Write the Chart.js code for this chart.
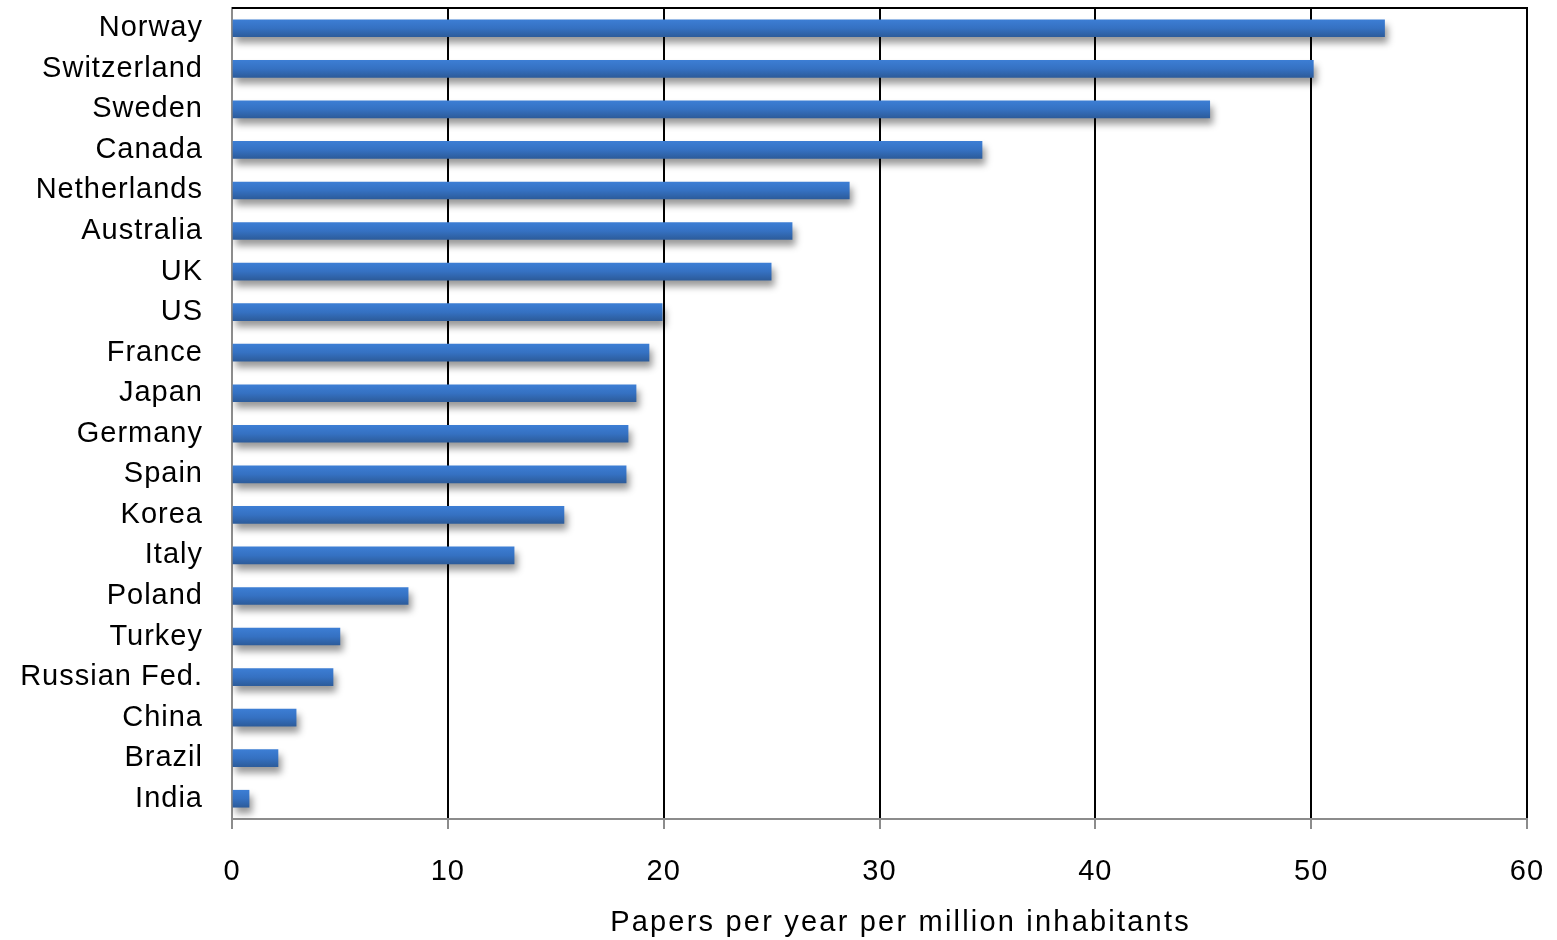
<!DOCTYPE html>
<html>
<head>
<meta charset="utf-8">
<script src="https://cdn.jsdelivr.net/npm/chart.js@4/dist/chart.umd.min.js"></script>
<style>
    body { margin: 0; background: #ffffff; }
    #wrap { width: 1557px; height: 940px; }
</style>
</head>
<body>
<div id="wrap"><canvas id="bar-chart" width="1557" height="940"></canvas></div>
<script>
// 국가 목록 (위에서 아래 순서)
var countries = ["Norway", "Switzerland", "Sweden", "Canada", "Netherlands", "Australia", "UK", "US",
    "France", "Japan", "Germany", "Spain", "Korea", "Italy", "Poland", "Turkey", "Russian Fed.",
    "China", "Brazil", "India"];
// 인구 백만 명당 연간 논문 수
var papers = [53.4, 50.1, 45.3, 34.75, 28.6, 25.95, 24.98, 19.93,
    19.32, 18.72, 18.35, 18.26, 15.38, 13.07, 8.16, 5.0, 4.68,
    2.97, 2.13, 0.79];
var xTicks = [0, 10, 20, 30, 40, 50, 60];
var xTitle = "Papers per year per million inhabitants";

window.onload = function () {
    var axisGray = "#8c8c8c";

    // 막대 세로 그라데이션
    function barFill(context) {
        var chart = context.chart;
        var yScale = chart.scales.y;
        if (!yScale || context.dataIndex === undefined) return "#3470c0";
        var yc = yScale.getPixelForValue(context.dataIndex);
        if (!isFinite(yc)) return "#3470c0";
        var g = chart.ctx.createLinearGradient(0, yc - 8, 0, yc + 8);
        g.addColorStop(0, "#3c7dd3");
        g.addColorStop(0.5, "#3571c2");
        g.addColorStop(1, "#2d5d9d");
        return g;
    }

    // 글자 간격 + 막대 그림자 + 위쪽 테두리
    var stylePlugin = {
        id: "stylePlugin",
        beforeUpdate: function (chart) {
            chart.ctx.letterSpacing = "1px";
        },
        beforeDraw: function (chart) {
            chart.ctx.letterSpacing = "1px";
        },
        beforeDatasetsDraw: function (chart) {
            var ctx = chart.ctx;
            ctx.save();
            ctx.shadowColor = "rgba(0,0,0,0.4)";
            ctx.shadowBlur = 7;
            ctx.shadowOffsetX = 3;
            ctx.shadowOffsetY = 6;
        },
        afterDatasetsDraw: function (chart) {
            chart.ctx.restore();
        },
        afterDraw: function (chart) {
            var ctx = chart.ctx;
            var a = chart.chartArea;
            ctx.save();
            ctx.strokeStyle = "#000000";
            ctx.lineWidth = 2;
            ctx.beginPath();
            ctx.moveTo(a.left, a.top);
            ctx.lineTo(a.right + 1, a.top);
            ctx.stroke();
            ctx.restore();
        }
    };

    var ctx = document.getElementById("bar-chart");
    var myBarChart = new Chart(ctx, {
        type: "bar",
        data: {
            labels: countries,
            datasets: [{
                data: papers,
                backgroundColor: barFill,
                borderWidth: 0,
                barThickness: 17
            }]
        },
        options: {
            indexAxis: "y",
            responsive: false,
            animation: false,
            layout: {
                padding: { top: 8, right: 30, bottom: 0, left: 0 }
            },
            plugins: {
                legend: { display: false },
                tooltip: { enabled: false }
            },
            scales: {
                x: {
                    min: 0,
                    max: 60,
                    afterBuildTicks: function (scale) {
                        scale.ticks = xTicks.map(function (v) { return { value: v }; });
                    },
                    grid: {
                        color: function (c) { return c.index === 0 ? axisGray : "#000000"; },
                        lineWidth: 2,
                        drawTicks: true,
                        tickLength: 10,
                        tickColor: axisGray,
                        tickWidth: 2
                    },
                    border: { display: true, color: axisGray, width: 2 },
                    ticks: {
                        color: "#000000",
                        padding: 26,
                        maxRotation: 0,
                        font: { family: "'Liberation Sans', Arial, sans-serif", size: 29 }
                    },
                    title: {
                        display: true,
                        text: xTitle,
                        color: "#000000",
                        padding: { top: 0, bottom: 0 },
                        font: { family: "'Liberation Sans', Arial, sans-serif", size: 29 }
                    },
                    afterFit: function (scale) {
                        scale.height = 121;
                        scale.paddingLeft = 0;
                        scale.paddingRight = 0;
                        // 축 제목: 글자 간격 넓게, 원본처럼 약간 오른쪽으로
                        if (!scale._wideTitle) {
                            var baseDrawTitle = Object.getPrototypeOf(scale).drawTitle;
                            scale.drawTitle = function () {
                                this.ctx.save();
                                this.ctx.letterSpacing = "2.2px";
                                this.ctx.translate(21, 0);
                                baseDrawTitle.apply(this, arguments);
                                this.ctx.restore();
                            };
                            scale._wideTitle = true;
                        }
                    }
                },
                y: {
                    grid: { display: false, drawTicks: false },
                    border: { display: true, color: axisGray, width: 2 },
                    ticks: {
                        color: "#000000",
                        padding: 29,
                        font: { family: "'Liberation Sans', Arial, sans-serif", size: 29 }
                    },
                    afterFit: function (scale) {
                        scale.width = 232;
                        scale.paddingTop = 0;
                        scale.paddingBottom = 0;
                    }
                }
            }
        },
        plugins: [stylePlugin]
    });
};
</script>
</body>
</html>
